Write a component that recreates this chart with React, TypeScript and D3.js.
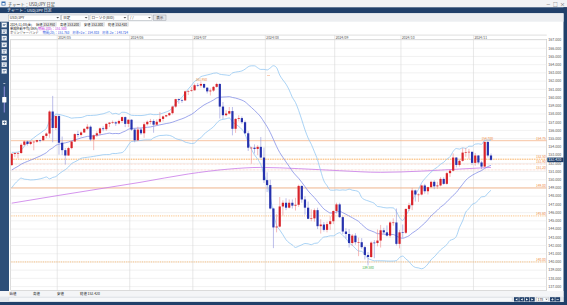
import React, { useEffect } from "react";
import * as d3 from "d3";

// ---------- DATA ----------
const dates = [
  "2024/04/10","2024/04/11","2024/04/12","2024/04/15","2024/04/16","2024/04/17","2024/04/18","2024/04/19","2024/04/22","2024/04/23","2024/04/24","2024/04/25","2024/04/26","2024/04/29","2024/04/30",
  "2024/05/01","2024/05/02","2024/05/03","2024/05/06","2024/05/07","2024/05/08","2024/05/09","2024/05/10","2024/05/13","2024/05/14","2024/05/15","2024/05/16","2024/05/17","2024/05/20","2024/05/21","2024/05/22","2024/05/23","2024/05/24","2024/05/27","2024/05/28","2024/05/29","2024/05/30","2024/05/31",
  "2024/06/03","2024/06/04","2024/06/05","2024/06/06","2024/06/07","2024/06/10","2024/06/11","2024/06/12","2024/06/13","2024/06/14","2024/06/17","2024/06/18","2024/06/19","2024/06/20","2024/06/21","2024/06/24","2024/06/25","2024/06/26","2024/06/27","2024/06/28",
  "2024/07/01","2024/07/02","2024/07/03","2024/07/04","2024/07/05","2024/07/08","2024/07/09","2024/07/10","2024/07/11","2024/07/12","2024/07/15","2024/07/16","2024/07/17","2024/07/18","2024/07/19","2024/07/22","2024/07/23","2024/07/24","2024/07/25","2024/07/26","2024/07/29","2024/07/30","2024/07/31",
  "2024/08/01","2024/08/02","2024/08/05","2024/08/06","2024/08/07","2024/08/08","2024/08/09","2024/08/12","2024/08/13","2024/08/14","2024/08/15","2024/08/16","2024/08/19","2024/08/20","2024/08/21","2024/08/22","2024/08/23","2024/08/26","2024/08/27","2024/08/28","2024/08/29","2024/08/30",
  "2024/09/02","2024/09/03","2024/09/04","2024/09/05","2024/09/06","2024/09/09","2024/09/10","2024/09/11","2024/09/12","2024/09/13","2024/09/16","2024/09/17","2024/09/18","2024/09/19","2024/09/20","2024/09/23","2024/09/24","2024/09/25","2024/09/26","2024/09/27","2024/09/30",
  "2024/10/01","2024/10/02","2024/10/03","2024/10/04","2024/10/07","2024/10/08","2024/10/09","2024/10/10","2024/10/11","2024/10/14","2024/10/15","2024/10/16","2024/10/17","2024/10/18","2024/10/21","2024/10/22","2024/10/23","2024/10/24","2024/10/25","2024/10/28","2024/10/29","2024/10/30","2024/10/31",
  "2024/11/01","2024/11/04","2024/11/05","2024/11/06","2024/11/07","2024/11/08",
];

const opens = [
  151.78,153.15,153.25,153.25,154.25,154.65,154.35,154.62,154.63,154.82,154.80,155.33,155.62,158.30,156.30,
  157.75,154.50,153.60,152.95,153.85,154.65,155.55,155.45,155.75,156.20,156.45,154.90,155.40,155.65,156.25,156.15,156.80,156.95,156.98,156.85,157.15,157.62,156.80,
  157.30,156.10,154.80,156.10,155.65,156.75,157.05,157.15,156.70,157.05,157.40,157.70,157.85,158.10,158.90,159.80,159.70,159.65,160.75,160.80,
  160.88,161.50,161.45,161.65,161.20,160.75,160.85,161.30,161.65,158.90,157.85,158.05,158.35,156.20,157.40,157.50,157.00,155.65,153.90,153.90,153.75,154.00,152.70,
  149.95,149.35,146.50,144.20,144.30,146.75,147.20,146.60,147.20,146.85,146.95,149.25,147.60,146.60,145.25,145.30,146.30,144.35,144.55,143.90,144.60,144.95,
  146.20,147.00,145.45,143.70,143.40,142.30,143.20,142.40,142.40,141.80,140.85,140.60,142.35,142.30,142.60,143.85,143.60,143.20,144.80,144.80,142.20,
  143.60,143.55,146.45,146.90,148.70,148.20,148.20,149.30,148.60,149.10,149.75,149.20,149.30,150.10,149.50,150.80,151.10,152.70,151.80,152.30,153.30,153.35,153.40,
  152.05,152.95,152.10,151.60,154.60,152.95,
];

const highs = [
  153.24,153.32,153.38,154.45,154.78,154.75,154.70,154.68,154.85,154.88,155.37,155.75,158.44,160.20,157.85,
  157.95,155.25,153.85,154.00,154.75,155.65,155.95,155.90,156.25,156.75,156.60,155.50,155.90,156.35,156.50,156.85,157.00,157.20,157.10,157.30,157.70,157.70,157.35,
  157.35,156.30,156.45,156.30,157.00,157.20,157.40,157.35,157.35,158.25,157.80,157.90,158.20,159.00,159.85,159.90,159.85,160.85,160.90,161.30,
  161.70,161.75,161.95,161.70,161.25,161.10,161.40,161.80,161.75,159.45,158.45,158.85,158.85,157.50,157.85,157.70,157.20,155.90,154.00,154.30,154.20,155.20,153.90,
  150.90,150.00,146.60,145.80,147.90,147.50,147.75,147.60,147.60,147.80,149.40,149.30,148.00,147.35,146.40,146.50,146.60,145.20,144.85,144.90,145.55,146.25,
  147.20,147.20,145.55,144.10,144.00,143.40,143.50,142.95,142.90,141.95,141.20,142.50,142.65,143.95,144.50,144.15,144.45,144.95,145.30,146.50,143.90,
  144.55,146.50,147.20,149.00,148.80,148.35,149.40,149.50,149.15,149.90,149.95,149.75,150.30,150.30,150.95,151.25,153.20,152.75,152.45,153.85,153.88,153.75,153.40,
  153.25,153.00,152.30,154.70,154.70,153.20,
];

const lows = [
  151.70,152.75,152.60,153.15,154.10,154.15,154.20,153.58,154.50,154.55,154.70,155.05,155.10,154.55,156.05,
  153.05,153.00,151.86,152.90,153.70,154.60,155.15,155.25,155.70,156.05,154.70,153.60,155.20,155.40,155.90,155.95,156.40,156.80,156.55,156.75,156.90,156.40,156.40,
  155.95,154.55,154.70,155.45,155.10,156.60,156.75,155.72,156.60,156.90,157.10,157.60,157.75,157.95,158.75,159.25,159.35,159.60,160.30,160.70,
  160.85,161.30,161.20,161.10,160.50,160.25,160.70,161.20,157.45,157.40,157.70,157.95,155.40,155.70,157.10,156.80,155.60,153.50,151.95,153.20,153.00,152.60,149.60,
  148.50,146.40,141.68,143.60,144.20,145.65,146.30,146.50,146.50,146.25,146.70,147.20,145.75,145.20,144.95,144.90,144.00,143.45,143.70,143.60,143.90,144.60,
  145.90,145.35,143.40,142.85,141.75,141.95,142.10,140.70,141.60,140.30,139.58,140.50,140.45,141.90,141.75,143.40,143.10,142.95,144.40,142.00,141.65,
  142.95,143.40,146.20,146.30,147.35,147.30,148.10,148.30,148.20,149.00,148.85,148.90,149.20,149.40,149.40,150.35,151.00,151.50,151.60,152.20,152.80,152.55,151.80,
  151.70,151.90,151.30,151.50,152.70,152.30,
];

const closes = [
  153.15,153.25,153.25,154.25,154.65,154.35,154.62,154.63,154.82,154.80,155.33,155.62,158.30,156.30,157.75,
  154.50,153.60,152.95,153.85,154.65,155.55,155.45,155.75,156.20,156.45,154.90,155.40,155.65,156.25,156.15,156.80,156.95,156.98,156.85,157.15,157.62,156.80,157.30,
  156.10,154.80,156.10,155.65,156.75,157.05,157.15,156.70,157.05,157.40,157.70,157.85,158.10,158.90,159.80,159.70,159.65,160.75,160.80,160.88,
  161.50,161.45,161.65,161.20,160.75,160.85,161.30,161.65,158.90,157.85,158.05,158.35,156.20,157.40,157.50,157.00,155.65,153.90,153.90,153.75,154.00,152.70,149.95,
  149.35,146.50,144.20,144.30,146.75,147.20,146.60,147.20,146.85,146.95,149.25,147.60,146.60,145.25,145.30,146.30,144.35,144.55,143.90,144.60,144.95,146.20,
  147.00,145.45,143.70,143.40,142.30,143.20,142.40,142.40,141.80,140.85,140.60,142.35,142.30,142.60,143.85,143.60,143.20,144.80,144.80,142.20,143.60,
  143.55,146.45,146.90,148.70,148.20,148.20,149.30,148.60,149.10,149.75,149.20,149.30,150.10,149.50,150.80,151.10,152.70,151.80,152.30,153.30,153.35,153.40,152.05,
  152.95,152.10,151.60,154.60,152.95,152.42,
];

// closes before the first visible bar (seed for the 20-bar Bollinger band)
const warmupCloses = [
  148.30,149.05,149.15,150.85,151.25,151.60,151.40,151.40,151.55,151.30,151.35,151.35,151.65,151.55,151.65,151.70,151.60,151.85,151.78,
];

// 200-bar SMA (bar index, value)
const sma200Index = [0, 15, 28, 41, 56, 69, 79, 91, 104, 117, 130, 142, 152];
const sma200Values = [147.15, 148.1, 148.9, 149.7, 150.7, 151.3, 151.5, 151.35, 151.1, 150.9, 151.05, 151.3, 151.5];

// horizontal reference lines
const levelValues = [154.75, 152.5, 151.9, 151.2, 149.0, 145.6, 140.0];
const levelLabels = ["154.75", "152.50", "151.90", "151.20", "149.00", "145.60", "140.00"];

const yTickValues = d3.range(137, 168, 1);

// ---------- LAYOUT / STYLE ----------
const W = 567, H = 305;
const PL = 10.7, PR = 546.7, PT = 39.3, PB = 290.7;
const NAVY = "#21406a";
const FONT = "'Noto Sans CJK JP','Noto Sans',sans-serif";
const levelStyle = [
  { c: "#f5b48a", d: undefined, w: 0.8 },
  { c: "#f7a040", d: "1.6,0.8", w: 0.8 },
  { c: "#f6b9a6", d: "0.7,0.7", w: 0.7 },
  { c: "#f6b9a6", d: "0.7,0.7", w: 0.7 },
  { c: "#f5b48a", d: undefined, w: 0.9 },
  { c: "#f7a040", d: "0.9,0.9", w: 0.7 },
  { c: "#f7a040", d: "0.9,0.9", w: 0.7 },
];

export default function App() {
  useEffect(() => {
    document.body.style.margin = "0";
  }, []);

  const n = closes.length;
  const x = d3.scaleLinear().domain([0, n - 1]).range([11.7, 491]);
  const y = d3.scaleLinear().domain([137, 167]).range([286.6, 40]);
  const step = x(1) - x(0);
  const fmt = d3.format(".3f");

  // Bollinger (20, 2σ)
  const all = warmupCloses.concat(closes);
  const off = warmupCloses.length;
  const bb = closes.map((_, i) => {
    const win = all.slice(i + off - 19, i + off + 1);
    const m = d3.mean(win) as number;
    const sd = Math.sqrt(d3.mean(win.map((v) => (v - m) * (v - m))) as number);
    return { i, m, u: m + 2 * sd, l: m - 2 * sd };
  });
  const lineM = d3.line<any>().x((d) => x(d.i)).y((d) => y(d.m)).curve(d3.curveMonotoneX);
  const lineU = d3.line<any>().x((d) => x(d.i)).y((d) => y(d.u)).curve(d3.curveMonotoneX);
  const lineL = d3.line<any>().x((d) => x(d.i)).y((d) => y(d.l)).curve(d3.curveMonotoneX);
  const smaPts = sma200Index.map((i, k) => [x(i), y(sma200Values[k])] as [number, number]);
  const smaPath = d3.line().curve(d3.curveMonotoneX)(smaPts) || "";

  const last = bb[n - 1];
  const lastClose = closes[n - 1];

  // month starts
  const monthStarts: { i: number; label: string }[] = [];
  for (let i = 1; i < n; i++) {
    if (dates[i].slice(0, 7) !== dates[i - 1].slice(0, 7)) monthStarts.push({ i, label: dates[i].slice(0, 7) });
  }

  const hiIdx = d3.maxIndex(highs);
  const loIdx = d3.minIndex(lows);
  const hi2Idx = n - 3 + (d3.maxIndex(highs.slice(n - 3)) as number);

  const sideIcons = [22.7, 29.3, 35.9, 42.5, 49.1, 55.7, 62.3, 68.9];

  return (
    <svg width={W} height={H} viewBox={`0 0 ${W} ${H}`} style={{ display: "block", position: "absolute", left: 0, top: 0 }} fontFamily={FONT}>
      <rect x={0} y={0} width={W} height={H} fill="#ffffff" />
      {/* title bar */}
      <rect x={0} y={0} width={W} height={7.3} fill="#f2f3f5" />
      <rect x={1.5} y={1.5} width={4} height={4} fill="#3a6fb0" />
      <rect x={2.3} y={3} width={2.4} height={1.8} fill="#ffffff" />
      <text x={8} y={5.6} fontSize={4.2} fill="#333">チャート：USD/JPY 日足</text>
      <text x={546} y={5.6} fontSize={4.6} fill="#444">－</text>
      <text x={553} y={5.6} fontSize={4.6} fill="#444">□</text>
      <text x={560} y={5.8} fontSize={5} fill="#444">×</text>
      {/* navy header */}
      <rect x={0} y={7.3} width={W} height={6} fill={NAVY} />
      <text x={7} y={11.9} fontSize={4} fill="#ffffff">チャート：USD/JPY 日足</text>
      {/* right / bottom frame */}
      <rect x={563.5} y={7.3} width={3.5} height={H - 7.3} fill={NAVY} />
      <rect x={0} y={302} width={W} height={3} fill={NAVY} />
      {/* toolbar */}
      <rect x={0} y={13.3} width={563.5} height={8.4} fill="#eceef1" />
      {[
        { x: 8.3, w: 52, t: "USD/JPY" },
        { x: 61.7, w: 27, t: "日足" },
        { x: 90, w: 37.5, t: "ローソク(BID)" },
        { x: 128.5, w: 23.5, t: "  /  /  " },
      ].map((b, k) => (
        <g key={k}>
          <rect x={b.x} y={15} width={b.w} height={5.3} fill="#ffffff" stroke="#9aa0a8" strokeWidth={0.4} />
          <text x={b.x + 1.5} y={19} fontSize={3.6} fill="#222">{b.t}</text>
          <path d={`M${b.x + b.w - 4},16.9 l1.4,1.6 l1.4,-1.6 z`} fill="#555" />
        </g>
      ))}
      <rect x={153.5} y={15} width={12.5} height={5.3} fill="#e2e4e8" stroke="#8a9099" strokeWidth={0.4} />
      <text x={159.75} y={19} fontSize={3.6} fill="#222" textAnchor="middle">表示</text>
      {/* info rows */}
      <g fontSize={3.2}>
        <text x={10} y={25.8} fill="#222">2024/11/08(金)</text>
        {[
          { lx: 36, t: "始値", v: opens[n - 1] },
          { lx: 60, t: "高値", v: highs[n - 1] },
          { lx: 84, t: "安値", v: lows[n - 1] },
          { lx: 108, t: "終値", v: closes[n - 1] },
        ].map((r, k) => (
          <g key={k}>
            <text x={r.lx} y={25.8} fill="#222">{r.t}</text>
            <rect x={r.lx + 7} y={22.8} width={13.5} height={3.8} fill="#eeeeee" stroke="#c4c4c4" strokeWidth={0.3} />
            <text x={r.lx + 7.6} y={25.8} fill="#222">{fmt(r.v)}</text>
          </g>
        ))}
        <text x={10} y={29.8} fill="#222">単純移動平均(SMA)</text>
        <text x={38} y={29.8} fill="#c032e0">期間(200)：{fmt(sma200Values[sma200Values.length - 1])}</text>
        <text x={10} y={33.8} fill="#222">ボリンジャーバンド</text>
        <text x={42.5} y={33.8} fill="#2b55e0">
          期間(20)：{fmt(last.m)}　標準+2σ：{fmt(last.u)}　標準-2σ：{fmt(last.l)}
        </text>
      </g>
      {/* left sidebar */}
      <rect x={0} y={21.7} width={9} height={PB - 21.7 + 0.6} fill="#2d4e78" />
      {sideIcons.map((sy, k) => (
        <g key={k}>
          <rect x={1.8} y={sy} width={5} height={4.6} fill="#f4f6f9" stroke="#9fb2c8" strokeWidth={0.3} />
          <rect x={2.8} y={sy + 1.4} width={3} height={0.6} fill="#3c5f8a" />
          <rect x={2.8} y={sy + 2.7} width={2.2} height={0.6} fill="#3c5f8a" />
        </g>
      ))}
      <rect x={3.3} y={83} width={2} height={0.6} fill="#ffffff" />
      <rect x={3.8} y={86.5} width={1} height={26} fill="#8f8fe0" />
      <rect x={2.2} y={97} width={4.2} height={5.5} fill="#ffffff" rx={0.6} />
      <rect x={2.2} y={120.5} width={4.4} height={4.4} fill="#ffffff" />
      <rect x={2.9} y={122.4} width={3} height={0.6} fill="#2d4e78" />
      <rect x={4.1} y={121.2} width={0.6} height={3} fill="#2d4e78" />

      {/* chart frame */}
      <line x1={PL} x2={PR} y1={35.1} y2={35.1} stroke="#bfbfbf" strokeWidth={0.5} />
      <rect x={PL} y={PT} width={PR - PL} height={PB - PT} fill="#ffffff" stroke="#c4c4c4" strokeWidth={0.6} />
      {/* horizontal grid */}
      {yTickValues.map((v) => (
        <line key={v} x1={PL} x2={PR} y1={y(v)} y2={y(v)} stroke="#e9e9e9" strokeWidth={0.6} />
      ))}
      {/* month grid + labels */}
      {monthStarts.map((m) => {
        const gx = x(m.i) - step / 2 - 0.2;
        return (
          <g key={m.label}>
            <line x1={gx} x2={gx} y1={35.1} y2={PB} stroke="#d9d9d9" strokeWidth={0.6} />
            <text x={gx + 1} y={38.6} fontSize={3.4} fill="#555">{m.label}</text>
          </g>
        );
      })}
      <clipPath id="plot">
        <rect x={PL} y={PT} width={PR - PL} height={PB - PT} />
      </clipPath>
      <g clipPath="url(#plot)">
        {/* levels */}
        {levelValues.map((v, k) => (
          <g key={k}>
            <line x1={PL} x2={PR} y1={y(v)} y2={y(v)} stroke={levelStyle[k].c} strokeWidth={levelStyle[k].w} strokeDasharray={levelStyle[k].d} />
            <text x={PR - 1} y={y(v) - 0.8} fontSize={3.2} fill="#f08a3c" textAnchor="end">{levelLabels[k]}</text>
          </g>
        ))}
        {/* 200 SMA */}
        <path d={smaPath} fill="none" stroke="#c97ae8" strokeWidth={0.8} />
        {/* Bollinger */}
        <path d={lineU(bb) || ""} fill="none" stroke="#8dc4f2" strokeWidth={0.75} />
        <path d={lineL(bb) || ""} fill="none" stroke="#8dc4f2" strokeWidth={0.75} />
        <path d={lineM(bb) || ""} fill="none" stroke="#7d8ae6" strokeWidth={0.75} />
        {/* candles */}
        {closes.map((c, i) => {
          const o = opens[i];
          const up = c >= o;
          const cx = x(i);
          const top = y(Math.max(o, c));
          const bot = y(Math.min(o, c));
          return (
            <g key={i}>
              <line x1={cx} x2={cx} y1={y(highs[i])} y2={y(lows[i])} stroke={up ? "#ef8d8d" : "#8e92dc"} strokeWidth={0.6} />
              <rect x={cx - 1.1} y={top} width={2.2} height={Math.max(0.6, bot - top)} fill={up ? "#d8232a" : "#2632ad"} />
            </g>
          );
        })}
        {/* hi / lo labels */}
        <text x={x(hiIdx as number) + 0.5} y={y(highs[hiIdx as number]) - 1} fontSize={3.2} fill="#f08a3c" textAnchor="middle">{fmt(highs[hiIdx as number])}</text>
        <text x={x(hi2Idx) + 2.5} y={y(highs[hi2Idx]) - 0.8} fontSize={3.2} fill="#f08a3c" textAnchor="middle">{fmt(highs[hi2Idx])}</text>
        <text x={x(loIdx as number)} y={y(lows[loIdx as number]) + 3.4} fontSize={3.2} fill="#3cb043" textAnchor="middle">{fmt(lows[loIdx as number])}</text>
        <line x1={267} x2={270} y1={75.5} y2={75.5} stroke="#f6a070" strokeWidth={0.5} />
      </g>
      {/* y axis labels */}
      {yTickValues.map((v) => (
        <text key={v} x={548.3} y={y(v) + 1.3} fontSize={3.6} fill="#555">{fmt(v)}</text>
      ))}
      {/* last price box */}
      <rect x={547.3} y={y(lastClose) - 2.3} width={16.2} height={4.6} fill={NAVY} />
      <text x={548.3} y={y(lastClose) + 1.3} fontSize={3.6} fill="#ffffff">{fmt(lastClose)}</text>

      {/* bottom info row */}
      <rect x={0} y={PB + 0.3} width={563.5} height={6} fill="#f4f5f7" />
      <g fontSize={3.4} fill="#222">
        <text x={9.5} y={295.3}>始値</text>
        <text x={33} y={295.3}>高値</text>
        <text x={57} y={295.3}>安値</text>
        <text x={80} y={295.3}>終値 {fmt(lastClose)}</text>
      </g>
      {/* scrollbar row */}
      <rect x={0} y={296.6} width={563.5} height={5.4} fill="#e3e7ec" />
      <rect x={9} y={297.3} width={503} height={4} fill="#f7f8fa" stroke="#c7ccd3" strokeWidth={0.3} />
      {[514, 519.3, 524.6, 529.9].map((bx, k) => (
        <g key={k}>
          <rect x={bx} y={297.2} width={4.8} height={4.3} fill={NAVY} />
          <path d={k < 2 ? `M${bx + 3.4},298.2 l-2,1.2 l2,1.2 z` : `M${bx + 1.4},298.2 l2,1.2 l-2,1.2 z`} fill="#ffffff" />
        </g>
      ))}
      <rect x={536.5} y={297.2} width={12} height={4.3} fill="#ffffff" stroke="#9aa0a8" strokeWidth={0.3} />
      <text x={537.5} y={300.6} fontSize={3.4} fill="#222">178</text>
      <path d="M545.3,298.7 l1.2,1.3 l1.2,-1.3 z" fill="#555" />
      <rect x={550} y={297.2} width={4.8} height={4.3} fill={NAVY} />
      <rect x={555.3} y={297.2} width={4.8} height={4.3} fill={NAVY} />
      <rect x={551.2} y={299.05} width={2.4} height={0.6} fill="#fff" />
      <rect x={552.1} y={298.15} width={0.6} height={2.4} fill="#fff" />
      <rect x={556.5} y={299.05} width={2.4} height={0.6} fill="#fff" />
    </svg>
  );
}
